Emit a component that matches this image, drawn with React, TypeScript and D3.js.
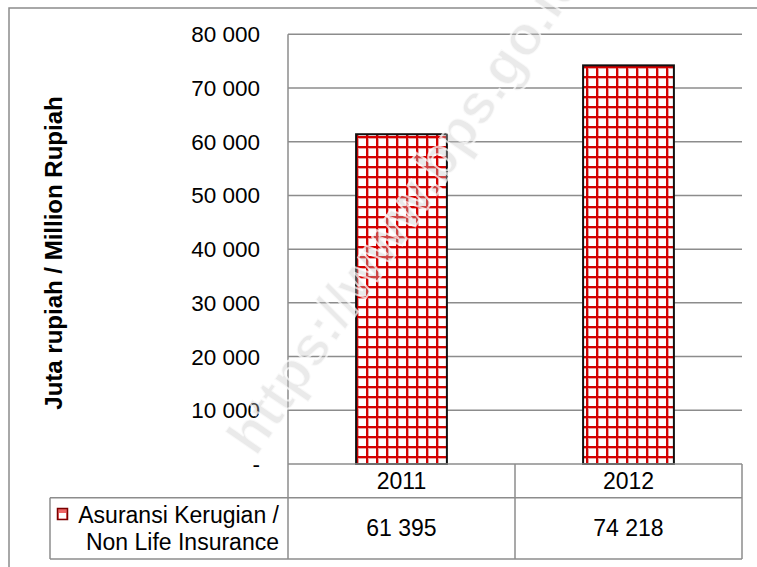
import React from "react";
import * as d3 from "d3";

const categories = ["2011", "2012"];
const values = [61395, 74218];
const valueLabels = ["61 395", "74 218"];
const yTicks = [0, 10000, 20000, 30000, 40000, 50000, 60000, 70000, 80000];
const yTickLabels = ["-", "10 000", "20 000", "30 000", "40 000", "50 000", "60 000", "70 000", "80 000"];
const seriesName = ["Asuransi Kerugian /", "Non Life Insurance"];
const yTitle = "Juta rupiah / Million Rupiah";
const watermark = "https://www.bps.go.id";

const W = 757, H = 567;
const plotLeft = 288, plotRight = 742, plotTop = 34.3, plotBottom = 464;
const tableLeft = 50, row1Bottom = 497.7, tableBottom = 559;
const FONT = "'Liberation Sans', Arial, sans-serif";
const GRID = "#8c8c8c";
const FS = 23;

export default function App() {
  const y = d3.scaleLinear().domain([0, 80000]).range([plotBottom, plotTop]);
  const x = d3.scaleBand<string>().domain(categories).range([plotLeft, plotRight]).paddingInner(0.6).paddingOuter(0.3);
  const step = x.step();
  const colEdges = [plotLeft, ...categories.map((c, i) => plotLeft + step * (i + 1))];

  return (
    <svg width={W} height={H} style={{ position: "absolute", left: 0, top: 0, display: "block", background: "#fff" }} fontFamily={FONT}>
      <defs>
        <pattern id="grid" patternUnits="userSpaceOnUse" width={10} height={10} x={6} y={6}>
          <rect width={10} height={10} fill="#fff" />
          <path d="M0,1H10M1,0V10" stroke="#eaa0a0" strokeWidth={4} />
          <path d="M0,1H10M1,0V10" stroke="#d40000" strokeWidth={2} />
        </pattern>
      </defs>
      {/* outer border */}
      <rect x={9} y={8} width={800} height={600} fill="none" stroke={GRID} strokeWidth={1.5} />

      {/* gridlines */}
      {yTicks.slice(1).map((t) => (
        <line key={t} x1={plotLeft} x2={plotRight} y1={y(t)} y2={y(t)} stroke={GRID} strokeWidth={1.5} />
      ))}
      <line x1={plotLeft} x2={plotLeft} y1={plotTop} y2={tableBottom} stroke={GRID} strokeWidth={1.5} />

      {/* tick labels */}
      {yTicks.map((t, i) => (
        <text key={t} x={260} y={y(t) + 8} textAnchor="end" fontSize={22.5} fill="#000">{yTickLabels[i]}</text>
      ))}

      {/* y title */}
      <text transform={`translate(62,${253}) rotate(-90)`} textAnchor="middle" fontSize={24} fontWeight="bold" fill="#000">{yTitle}</text>

      {/* bars */}
      {categories.map((c, i) => (
        <rect key={c} x={x(c)} y={y(values[i])} width={x.bandwidth()} height={plotBottom - y(values[i])}
          fill="url(#grid)" stroke="#111" strokeWidth={2} />
      ))}

      {/* watermark */}
      <text transform="translate(256,458) rotate(-55.5)" fontSize={56} fontWeight="bold" fill="rgba(195,195,195,0.35)"
        stroke="rgba(255,255,255,0.7)" strokeWidth={2}>{watermark}</text>

      {/* data table */}
      <line x1={plotLeft} x2={plotRight} y1={plotBottom} y2={plotBottom} stroke={GRID} strokeWidth={1.5} />
      <line x1={tableLeft} x2={plotRight} y1={row1Bottom} y2={row1Bottom} stroke={GRID} strokeWidth={1.5} />
      <line x1={tableLeft} x2={plotRight} y1={tableBottom} y2={tableBottom} stroke={GRID} strokeWidth={1.5} />
      <line x1={tableLeft} x2={tableLeft} y1={row1Bottom} y2={tableBottom} stroke={GRID} strokeWidth={1.5} />
      {colEdges.slice(1).map((e, i) => (
        <line key={i} x1={e} x2={e} y1={plotBottom} y2={tableBottom} stroke={GRID} strokeWidth={1.5} />
      ))}
      {categories.map((c, i) => (
        <g key={c}>
          <text x={(x(c) as number) + x.bandwidth() / 2} y={489} textAnchor="middle" fontSize={FS} fill="#000">{c}</text>
          <text x={(x(c) as number) + x.bandwidth() / 2} y={536} textAnchor="middle" fontSize={FS} fill="#000">{valueLabels[i]}</text>
        </g>
      ))}
      <rect x={57.5} y={508.5} width={10} height={11} fill="#e66" stroke="#7a0000" strokeWidth={1.5} />
      <rect x={59} y={513} width={7} height={5.5} fill="#fff" />
      <text x={279} y={523} textAnchor="end" fontSize={FS} fill="#000">{seriesName[0]}</text>
      <text x={279} y={550} textAnchor="end" fontSize={FS} fill="#000">{seriesName[1]}</text>
    </svg>
  );
}
